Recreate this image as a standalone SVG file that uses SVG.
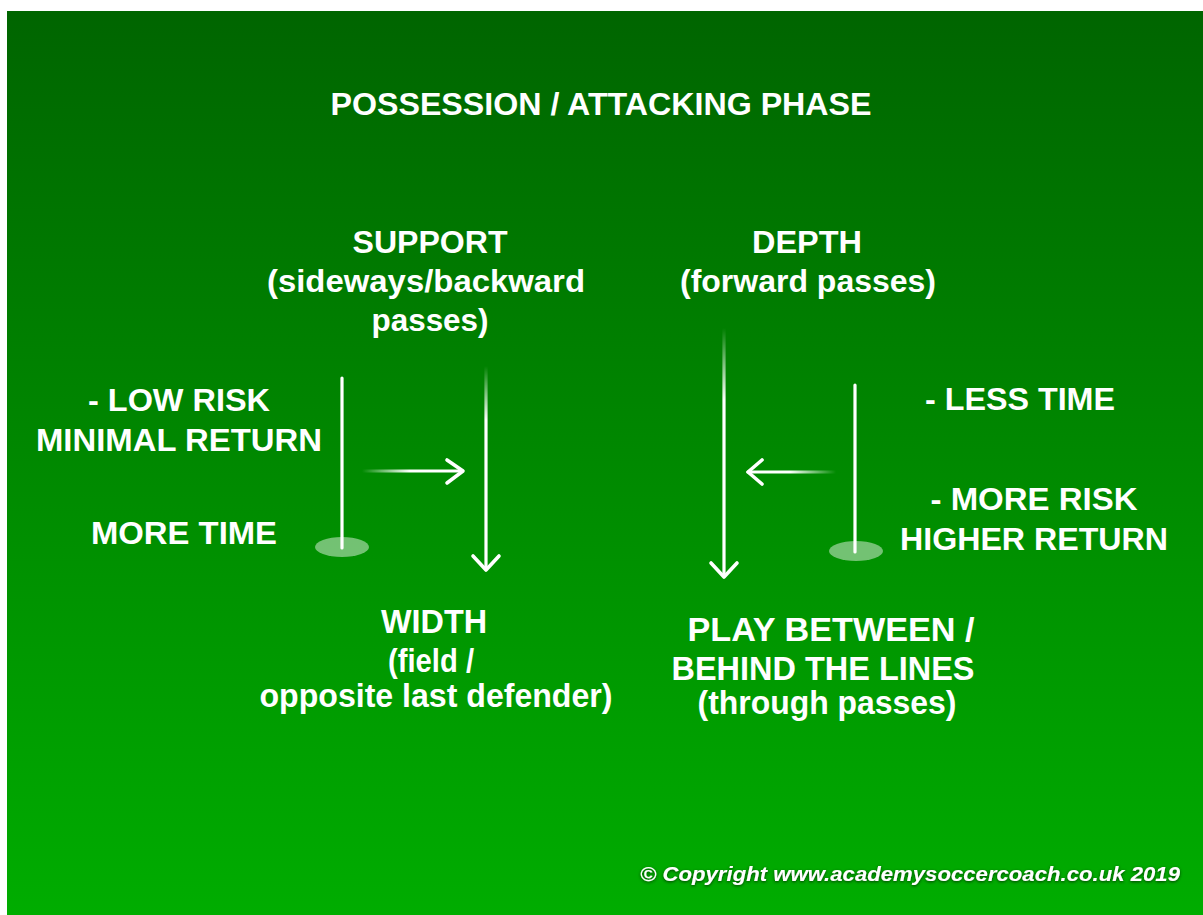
<svg xmlns="http://www.w3.org/2000/svg" width="1203" height="915" viewBox="0 0 1203 915">
<style>
.t{font-family:"Liberation Sans",Arial,Helvetica,sans-serif;font-weight:bold;font-size:31px;fill:#ffffff;text-anchor:middle}
.b{font-size:33px}
.c{font-family:"Liberation Sans",Arial,Helvetica,sans-serif;font-weight:bold;font-style:italic;font-size:21px;fill:#ffffff}
.ln{fill:none;stroke-width:3.2;stroke-linecap:round;stroke-linejoin:round}
.hd{fill:none;stroke:#ffffff;stroke-width:3.6;stroke-linecap:round;stroke-linejoin:round}
.base{fill:#ffffff;fill-opacity:0.45}
</style>
<defs>
<linearGradient id="bg" x1="0" y1="11" x2="0" y2="915" gradientUnits="userSpaceOnUse">
<stop offset="0" stop-color="#006500"/>
<stop offset="1" stop-color="#00AD00"/>
</linearGradient>
<linearGradient id="fR" x1="362" y1="0" x2="410" y2="0" gradientUnits="userSpaceOnUse">
<stop offset="0" stop-color="#fff" stop-opacity="0"/>
<stop offset="1" stop-color="#fff" stop-opacity="1"/>
</linearGradient>
<linearGradient id="fL" x1="836" y1="0" x2="790" y2="0" gradientUnits="userSpaceOnUse">
<stop offset="0" stop-color="#fff" stop-opacity="0"/>
<stop offset="1" stop-color="#fff" stop-opacity="1"/>
</linearGradient>
<linearGradient id="fD1" x1="0" y1="366" x2="0" y2="420" gradientUnits="userSpaceOnUse">
<stop offset="0" stop-color="#fff" stop-opacity="0"/>
<stop offset="1" stop-color="#fff" stop-opacity="1"/>
</linearGradient>
<linearGradient id="fD2" x1="0" y1="328" x2="0" y2="400" gradientUnits="userSpaceOnUse">
<stop offset="0" stop-color="#fff" stop-opacity="0"/>
<stop offset="1" stop-color="#fff" stop-opacity="1"/>
</linearGradient>
<filter id="sh" x="-5%" y="-50%" width="110%" height="200%">
<feDropShadow dx="0" dy="1" stdDeviation="1.5" flood-color="#003300" flood-opacity="0.9"/>
</filter>
</defs>
<rect x="7" y="11" width="1196" height="904" fill="url(#bg)"/>

<g id="title"><text class="t" x="601" y="115" textLength="541" lengthAdjust="spacingAndGlyphs">POSSESSION / ATTACKING PHASE</text></g>

<g id="support">
<text class="t" x="430" y="253" textLength="155" lengthAdjust="spacingAndGlyphs">SUPPORT</text>
<text class="t" x="426" y="292" textLength="318" lengthAdjust="spacingAndGlyphs">(sideways/backward</text>
<text class="t" x="430" y="331" textLength="117" lengthAdjust="spacingAndGlyphs">passes)</text>
</g>

<g id="depth">
<text class="t" x="807" y="253" textLength="110" lengthAdjust="spacingAndGlyphs">DEPTH</text>
<text class="t" x="808" y="292" textLength="256" lengthAdjust="spacingAndGlyphs">(forward passes)</text>
</g>

<g id="low-risk">
<text class="t" x="179" y="411" textLength="182" lengthAdjust="spacingAndGlyphs">- LOW RISK</text>
<text class="t" x="179" y="451" textLength="286" lengthAdjust="spacingAndGlyphs">MINIMAL RETURN</text>
</g>
<g id="more-time"><text class="t" x="184" y="544" textLength="186" lengthAdjust="spacingAndGlyphs">MORE TIME</text></g>

<g id="less-time"><text class="t" x="1020" y="410" textLength="190" lengthAdjust="spacingAndGlyphs">- LESS TIME</text></g>
<g id="more-risk">
<text class="t" x="1034" y="510" textLength="207" lengthAdjust="spacingAndGlyphs">- MORE RISK</text>
<text class="t" x="1034" y="550" textLength="268" lengthAdjust="spacingAndGlyphs">HIGHER RETURN</text>
</g>

<g id="width">
<text class="t b" x="434" y="633" textLength="106" lengthAdjust="spacingAndGlyphs">WIDTH</text>
<text class="t b" x="431" y="672" textLength="86" lengthAdjust="spacingAndGlyphs">(field /</text>
<text class="t b" x="436" y="707" textLength="353" lengthAdjust="spacingAndGlyphs">opposite last defender)</text>
</g>

<g id="play-between">
<text class="t b" x="831" y="641" textLength="287" lengthAdjust="spacingAndGlyphs">PLAY BETWEEN /</text>
<text class="t b" x="823" y="680" textLength="303" lengthAdjust="spacingAndGlyphs">BEHIND THE LINES</text>
<text class="t b" x="827" y="714" textLength="259" lengthAdjust="spacingAndGlyphs">(through passes)</text>
</g>

<g id="pole-left">
<ellipse class="base" cx="342" cy="547" rx="27" ry="10"/>
<line class="ln" stroke="#ffffff" x1="342" y1="378" x2="342" y2="548"/>
</g>
<g id="pole-right">
<ellipse class="base" cx="856" cy="551" rx="27" ry="10"/>
<line class="ln" stroke="#ffffff" x1="855" y1="385" x2="855" y2="552"/>
</g>

<g id="connectors">
<line class="ln" stroke="url(#fR)" x1="362" y1="471" x2="462" y2="471"/>
<polyline class="hd" points="447,460 463,471 447,483"/>
<line class="ln" stroke="url(#fD1)" x1="486" y1="366" x2="486" y2="569"/>
<polyline class="hd" points="473,556 486,570 499,556"/>
<line class="ln" stroke="url(#fD2)" x1="724" y1="328" x2="724" y2="576"/>
<polyline class="hd" points="711,563 724,577 737,563"/>
<line class="ln" stroke="url(#fL)" x1="836" y1="472" x2="748" y2="472"/>
<polyline class="hd" points="762,460 748,472 762,484"/>
</g>

<g id="copyright"><text class="c" x="640" y="881" textLength="540" lengthAdjust="spacingAndGlyphs" filter="url(#sh)">© Copyright www.academysoccercoach.co.uk 2019</text></g>
</svg>
